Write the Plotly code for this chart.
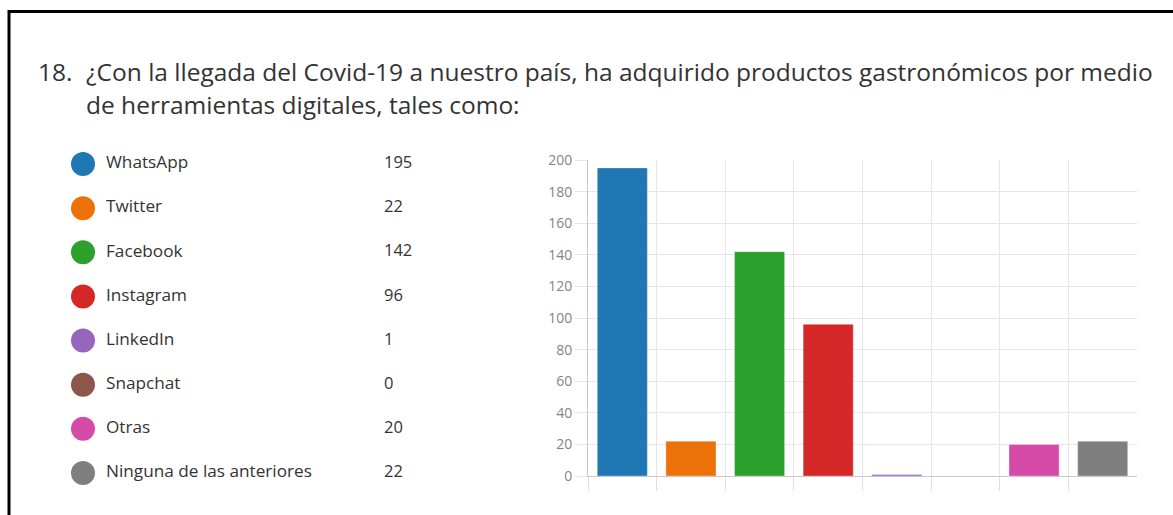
import plotly.graph_objects as go

# ---- data ----
categories = ["WhatsApp", "Twitter", "Facebook", "Instagram", "LinkedIn",
              "Snapchat", "Otras", "Ninguna de las anteriores"]
values = [195, 22, 142, 96, 1, 0, 20, 22]
colors = ["#1f77b4", "#ec7108", "#2ca02c", "#d62728", "#9467bd",
          "#8c564b", "#d64aa8", "#7f7f7f"]
y_ticks = [0, 20, 40, 60, 80, 100, 120, 140, 160, 180, 200]

title_num = "18."
title_lines = ["¿Con la llegada del Covid-19 a nuestro país, ha adquirido productos gastronómicos por medio",
               "de herramientas digitales, tales como:"]

W, H = 1173, 515
FONT = "Open Sans"
GRID = "#e6e6e6"

# legend layout (pixels)
DOT_PX, VAL_PX = 83, 384
ROW0_PX, ROW_STEP = 164, 44.14
unit_x = VAL_PX - DOT_PX
LABEL_COL = 23 / unit_x
idx = list(range(len(categories)))
# category boundaries for the vertical grid (left edges of each category slot)
boundaries = [i - 0.5 for i in range(len(categories))]

fig = go.Figure()

# bar chart
fig.add_trace(go.Bar(
    x=categories, y=values,
    marker=dict(color=colors, line=dict(width=1, color="rgba(255,255,255,0.35)")),
    xaxis="x", yaxis="y", showlegend=False, hoverinfo="x+y"))
# empty trace so the grid axis exists
fig.add_trace(go.Scatter(x=[], y=[], xaxis="x3", yaxis="y", showlegend=False,
                         hoverinfo="skip"))

# legend list: dots, labels, values
fig.add_trace(go.Scatter(
    x=[0] * len(idx), y=idx, mode="markers",
    marker=dict(size=24, color=colors, line=dict(width=0)),
    xaxis="x2", yaxis="y2", showlegend=False, hoverinfo="skip"))
fig.add_trace(go.Scatter(
    x=[LABEL_COL] * len(idx), y=idx, mode="text", text=categories,
    textposition="middle right",
    textfont=dict(family=FONT, size=17.2, color="#333333"),
    xaxis="x2", yaxis="y2", showlegend=False, hoverinfo="skip"))
fig.add_trace(go.Scatter(
    x=[1.0] * len(idx), y=idx, mode="text", text=[str(v) for v in values],
    textposition="middle right",
    textfont=dict(family=FONT, size=16.5, color="#333333"),
    xaxis="x2", yaxis="y2", showlegend=False, hoverinfo="skip"))

# plot area in pixels
PX_L, PX_R = 588, 1137
PY_TOP, PY_BOT = 160, 476
xdom = [PX_L / W, PX_R / W]

fig.update_layout(
    width=W, height=H,
    margin=dict(l=0, r=0, t=0, b=0, autoexpand=False),
    paper_bgcolor="white", plot_bgcolor="rgba(0,0,0,0)",
    font=dict(family=FONT, color="#333333"),
    bargap=0.27,
    xaxis=dict(domain=xdom, type="category", range=[-0.5, len(categories) - 0.5],
               showgrid=False, ticks="", showticklabels=False,
               showline=True, linecolor="#c8c8c8", linewidth=1,
               zeroline=False, anchor="y", fixedrange=True, automargin=False),
    xaxis3=dict(domain=xdom, overlaying="x", anchor="y", side="bottom",
                range=[-0.5, len(categories) - 0.5], tickvals=boundaries,
                showgrid=True, gridcolor=GRID, gridwidth=1,
                ticks="outside", ticklen=14, tickcolor="#e0e0e0", tickwidth=1,
                showticklabels=False, showline=False, zeroline=False,
                fixedrange=True, automargin=False),
    yaxis=dict(domain=[(H - PY_BOT) / H, (H - PY_TOP) / H], range=[0, 200],
               tickvals=y_ticks, showgrid=True, gridcolor=GRID, gridwidth=1,
               ticks="outside", ticklen=12, tickcolor=GRID,
               tickfont=dict(family=FONT, size=14, color="#858585"),
               showline=True, linecolor="#c8c8c8", linewidth=1,
               zeroline=False, anchor="x", fixedrange=True, automargin=False),
    xaxis2=dict(domain=[0, 1], range=[-DOT_PX / unit_x, (W - DOT_PX) / unit_x],
                visible=False, anchor="y2", fixedrange=True, automargin=False),
    yaxis2=dict(domain=[0, 1],
                range=[(H - ROW0_PX) / ROW_STEP, -ROW0_PX / ROW_STEP],
                visible=False, anchor="x2", fixedrange=True, automargin=False),
    shapes=[dict(type="rect", xref="paper", yref="paper",
                 x0=9 / W, x1=1.05, y0=-0.05, y1=(H - 11.5) / H,
                 line=dict(color="black", width=3), fillcolor="rgba(0,0,0,0)", layer="above")],
    annotations=[
        dict(text=title_num, xref="paper", yref="paper", x=36 / W, y=(H - 71) / H,
             xanchor="left", yanchor="middle", showarrow=False,
             font=dict(family=FONT, size=24.5, color="#333333")),
        dict(text=title_lines[0], xref="paper", yref="paper", x=84 / W, y=(H - 71) / H,
             xanchor="left", yanchor="middle", showarrow=False,
             font=dict(family=FONT, size=24.5, color="#333333")),
        dict(text=title_lines[1], xref="paper", yref="paper", x=84 / W, y=(H - 104) / H,
             xanchor="left", yanchor="middle", showarrow=False,
             font=dict(family=FONT, size=24.5, color="#333333")),
    ],
)

fig.write_html("out.html", config={"displayModeBar": False},
               post_script="document.body.style.margin='0';document.body.style.overflow='hidden';")
